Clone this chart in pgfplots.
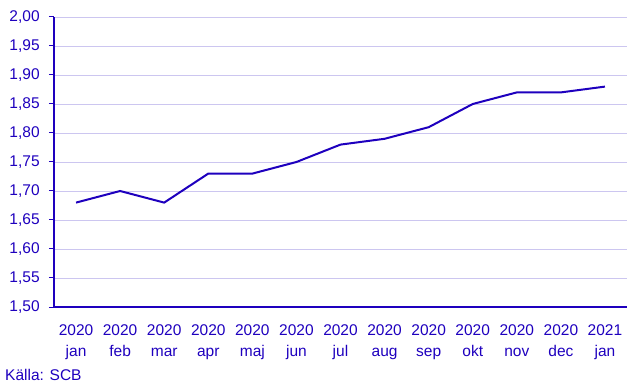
\documentclass[border=0pt]{standalone}
\usepackage{pgfplots}
\pgfplotsset{compat=1.18}
\usepackage{fontspec}
\setmainfont{Liberation Sans}
\definecolor{scbblue}{HTML}{1E00BE}
\definecolor{gridc}{HTML}{CCC6F0}
\begin{document}
\fontsize{15.5bp}{21bp}\selectfont
\begin{tikzpicture}
\path[use as bounding box] (0,0) rectangle (643bp,386bp);
\begin{axis}[
  at={(54bp,79bp)}, anchor=south west,
  scale only axis, width=573bp, height=290bp,
  xmin=-0.5, xmax=12.5, ymin=1.5, ymax=2.0,
  axis x line*=bottom, axis y line*=left,
  axis line style={scbblue, line width=1.2bp},
  every tick/.style={scbblue, line width=1bp},
  tick align=outside,
  major tick length=5bp, minor tick length=5bp,
  ytick={1.50,1.55,...,2.01},
  yticklabel={\pgfmathprintnumber[fixed, fixed zerofill, precision=2, use comma]{\tick}},
  /pgf/number format/assume math mode=true,
  ymajorgrids, grid style={gridc, line width=0.8bp},
  xtick={0,...,12},
  xticklabels={{2020\\jan},{2020\\feb},{2020\\mar},{2020\\apr},{2020\\maj},{2020\\jun},{2020\\jul},{2020\\aug},{2020\\sep},{2020\\okt},{2020\\nov},{2020\\dec},{2021\\jan}},
  x tick style={draw=none},
  minor xtick={-0.5,0.5,...,12.5},
  minor x tick style={scbblue, line width=1bp},
  xticklabel style={align=center, text=scbblue, font=\fontsize{15.5bp}{21bp}\selectfont, yshift=-7bp},
  yticklabel style={text=scbblue, font=\fontsize{15.5bp}{21bp}\selectfont, xshift=-4bp},
  clip=false,
]
\addplot[scbblue, line width=2bp, mark=none] coordinates {
(0,1.68) (1,1.70) (2,1.68) (3,1.73) (4,1.73) (5,1.75) (6,1.78) (7,1.79) (8,1.81) (9,1.85) (10,1.87) (11,1.87) (12,1.88)
};
\end{axis}
\node[anchor=base west, inner sep=0pt, text=scbblue] at (5bp,5.5bp) {Källa: SCB};
\end{tikzpicture}
\end{document}
